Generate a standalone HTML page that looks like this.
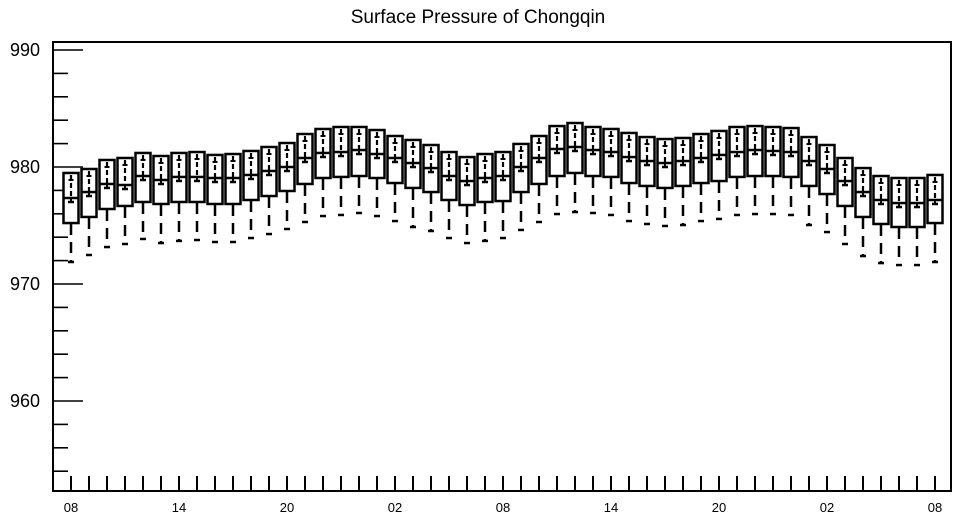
<!DOCTYPE html>
<html><head><meta charset="utf-8"><style>
html,body{margin:0;padding:0;background:#fff;}
svg{display:block;font-family:"Liberation Sans",Arial,sans-serif;}
</style></head><body>
<svg id="chart" width="958" height="520" viewBox="0 0 958 520">
<text x="478" y="23" font-size="19" text-anchor="middle">Surface Pressure of Chongqin</text>
<g id="axes"></g>
<g id="marks"></g>
</svg>
<script>
const categories = ["08","09","10","11","12","13","14","15","16","17","18","19","20","21","22","23","00","01","02","03","04","05","06","07","08","09","10","11","12","13","14","15","16","17","18","19","20","21","22","23","00","01","02","03","04","05","06","07","08"];
const q3Values = [979.49,979.83,980.60,980.77,981.20,980.94,981.20,981.28,981.03,981.11,981.37,981.71,982.05,982.82,983.25,983.42,983.42,983.16,982.65,982.31,981.88,981.28,980.85,981.11,981.28,981.97,982.65,983.50,983.76,983.42,983.25,982.91,982.56,982.39,982.48,982.82,983.08,983.42,983.50,983.42,983.33,982.56,981.88,980.77,979.91,979.23,979.06,979.06,979.32];
const medianValues = [977.35,977.86,978.55,978.46,979.23,978.89,979.15,979.15,979.06,979.06,979.32,979.66,980.00,980.77,981.20,981.28,981.45,981.11,980.77,980.34,979.91,979.23,978.80,979.06,979.23,980.00,980.77,981.54,981.71,981.45,981.28,980.85,980.51,980.34,980.51,980.77,981.03,981.28,981.45,981.37,981.28,980.51,979.83,978.80,977.86,977.18,976.92,976.92,977.18];
const q1Values = [975.21,975.73,976.41,976.67,977.01,976.84,977.01,977.01,976.84,976.84,977.18,977.52,977.95,978.55,979.06,979.15,979.23,979.06,978.63,978.21,977.86,977.18,976.75,977.01,977.09,977.86,978.55,979.23,979.49,979.23,979.15,978.63,978.38,978.21,978.38,978.63,978.80,979.15,979.23,979.23,979.15,978.38,977.69,976.67,975.73,975.13,974.87,974.87,975.21];
const minValues = [971.88,972.48,973.16,973.42,973.85,973.50,973.68,973.76,973.59,973.59,973.93,974.27,974.70,975.30,975.81,975.90,976.07,975.81,975.38,974.87,974.53,973.93,973.50,973.68,973.93,974.62,975.30,975.98,976.15,976.07,975.90,975.38,975.13,974.96,975.04,975.38,975.56,975.90,975.98,975.98,975.90,975.04,974.44,973.42,972.39,971.79,971.62,971.62,971.88];
const yMajorTicks = [960,970,980,990];
const xLabelEvery = 6;

const NS = "http://www.w3.org/2000/svg";
const L = 53, R = 951, T = 42, B = 491;
function y(v){ return 50 + (990 - v) * 11.7; }
function x(i){ return 71 + i * 18; }
function mk(tag, attrs, parent){
  const e = document.createElementNS(NS, tag);
  for (const k in attrs) e.setAttribute(k, attrs[k]);
  parent.appendChild(e);
  return e;
}
const axes = document.getElementById("axes");
const marks = document.getElementById("marks");

const frame = mk("rect", {x:L, y:T, width:R-L, height:B-T, fill:"none", stroke:"#000", "stroke-width":2}, axes);



// y ticks
for (let v = 954; v <= 990; v += 2) {
  const major = v % 10 === 0;
  const t = mk("line", {x1:L, x2:L + (major ? 30 : 15), y1:y(v), y2:y(v), stroke:"#000", "stroke-width":1.6}, axes);
  
  
}
yMajorTicks.forEach(v => {
  const t = mk("text", {x:40, y:y(v)+6, "font-size":18, "text-anchor":"end"}, axes);
  t.textContent = v;
  
  
});

// x ticks and labels
categories.forEach((c, i) => {
  const t = mk("line", {x1:x(i), x2:x(i), y1:B, y2:B-15, stroke:"#000", "stroke-width":2}, axes);
  
  
  if (i % xLabelEvery === 0) {
    const lb = mk("text", {x:x(i), y:512, "font-size":13, "text-anchor":"middle"}, axes);
    lb.textContent = c;
    
    
  }
});

// boxes
categories.forEach((c, i) => {
  const cx = x(i);
  const yt = y(q3Values[i]), ym = y(medianValues[i]), yb = y(q1Values[i]), yn = y(minValues[i]);
  const g = mk("g", {}, marks);
  
  
  const box = mk("rect", {x:cx-7.5, y:yt, width:15, height:yb-yt, fill:"#fff", stroke:"#000", "stroke-width":2.5}, g);
  
  
  const med = mk("line", {x1:cx-7.5, x2:cx+7.5, y1:ym, y2:ym, stroke:"#000", "stroke-width":2.5}, g);
  
  
  const inner = mk("line", {x1:cx, x2:cx, y1:yt+2, y2:ym, stroke:"#000", "stroke-width":2.2, "stroke-dasharray":"5,3"}, g);
  
  
  const cross = mk("line", {x1:cx-2.5, x2:cx+2.5, y1:yt+7, y2:yt+7, stroke:"#000", "stroke-width":2}, g);
  
  
  const stem = mk("line", {x1:cx, x2:cx, y1:ym, y2:ym+4, stroke:"#000", "stroke-width":2}, g);
  
  
  const mean = mk("line", {x1:cx-3, x2:cx+3, y1:ym+4, y2:ym+4, stroke:"#000", "stroke-width":2.5}, g);
  
  
  const wh = mk("line", {x1:cx, x2:cx, y1:yb+1, y2:yn, stroke:"#000", "stroke-width":2.5, "stroke-dasharray":"11,7"}, g);
  
  
  const cap = mk("line", {x1:cx-3, x2:cx+3, y1:yn, y2:yn, stroke:"#000", "stroke-width":2.5}, g);
  
  
});
</script>
</body></html>
